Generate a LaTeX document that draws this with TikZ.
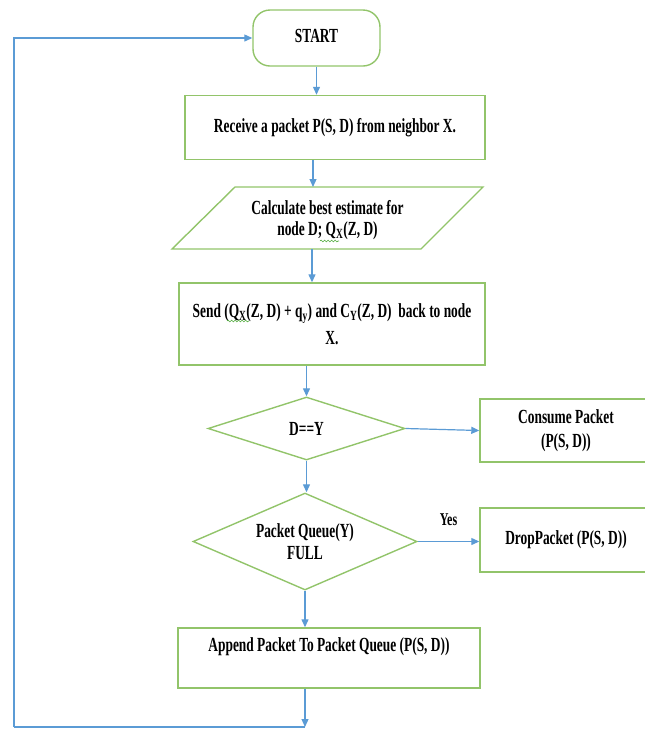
\documentclass[tikz,border=0pt]{standalone}
\usepackage{fontspec}
\setmainfont{Liberation Serif}[FakeStretch=0.67]
\usetikzlibrary{arrows.meta,shapes.geometric,decorations.pathmorphing}
\definecolor{boxgreen}{RGB}{146,196,106}
\definecolor{flowblue}{RGB}{91,155,213}
\definecolor{squiggle}{RGB}{80,170,60}
\tikzset{
  txt/.style={font=\fontsize{20}{27}\selectfont\bfseries, align=center, text=black},
  tight/.style={font=\fontsize{20}{#1}\selectfont\bfseries},
  procbox/.style={txt, draw=boxgreen, line width=1.4pt, rectangle, inner sep=0pt},
  startbox/.style={procbox, rounded corners=17pt},
  decision/.style={txt, draw=boxgreen, line width=1.4pt, diamond, aspect=2.3, inner sep=0pt},
  flow/.style={draw=flowblue, line width=1.2pt, -{Triangle[length=8pt,width=7pt]}},
  plainflow/.style={draw=flowblue, line width=1.2pt},
  spell/.style={draw=squiggle, line width=0.6pt, decorate, decoration={snake, segment length=3.5pt, amplitude=0.9pt}}
}
\begin{document}
\begin{tikzpicture}[x=1pt, y=-1pt]
\useasboundingbox (0,0) rectangle (645,729);
\begin{scope}
\clip (0,0) rectangle (645,729);

% start terminal
\node[startbox, minimum width=127pt, minimum height=56pt] (start) at (316.5,38) {\raisebox{4pt}{START}};

% receive step
\node[procbox, minimum width=300pt, minimum height=64pt] (recv) at (335,127.5)
  {Receive a packet P(S, D) from neighbor X.};

% estimate (input/output parallelogram)
\coordinate (pTL) at (235,187);
\coordinate (pTR) at (483,187);
\coordinate (pBR) at (421,249);
\coordinate (pBL) at (172,249);
\draw[boxgreen, line width=1.4pt, line join=miter] (pTL) -- (pTR) -- (pBR) -- (pBL) -- cycle;
\node[txt, tight=21] (est) at (327.5,220) {Calculate best estimate for\\node D; Q\textsubscript{X}(Z, D)};
\coordinate (estTop) at (313,187);
\coordinate (estBot) at (312,249);

% reply step
\node[procbox, minimum width=306pt, minimum height=82pt] (send) at (332,324)
  {Send (Q\textsubscript{X}(Z, D) + q\textsubscript{y}) and C\textsubscript{Y}(Z, D)\ \ back to node\\X.};

% decisions and outcomes
\node[decision, minimum width=197pt, minimum height=63pt] (dest) at (306.5,428.5) {D==Y};
\node[procbox, tight=24, minimum width=172pt, minimum height=63pt] (consume) at (566,430.5)
  {Consume Packet\\(P(S, D))};
\node[decision, tight=22, minimum width=224pt, minimum height=97pt] (full) at (305,541.5)
  {Packet Queue(Y)\\FULL};
\node[procbox, minimum width=172pt, minimum height=64pt] (drop) at (566,540)
  {DropPacket (P(S, D))};
\node[procbox, minimum width=302pt, minimum height=60pt] (append) at (329,658)
  {Append Packet To Packet Queue (P(S, D))\\\phantom{X}};

% spelling squiggles under Q_X
\draw[spell] (320,241) -- (339,241);
\draw[spell] (227,321) -- (249,321);

% connectors
\draw[flow] (start.south) -- (start.south |- recv.north);
\draw[flow] (recv.south -| estTop) -- (estTop);
\draw[flow] (estBot) -- (estBot |- send.north);
\draw[flow] (send.south -| dest.north) -- (dest.north);
\draw[flow] (dest.east) -- (consume.west);
\draw[flow] (dest.south) -- (dest.south |- full.north);
\draw[flow] (full.east) -- (full.east -| drop.west)
  node[txt, midway, above=12pt, font=\fontsize{18}{20}\selectfont\bfseries] (yes) {Yes};
\draw[flow] (full.south) -- (full.south |- append.north);

% loop back to start
\coordinate (loopc) at (305,727);
\coordinate (loopl) at (14,727);
\draw[flow] (append.south -| loopc) -- (loopc);
\draw[plainflow] (loopc) -- (loopl);
\draw[flow] (loopl) |- (start.west);
\end{scope}
\end{tikzpicture}
\end{document}
